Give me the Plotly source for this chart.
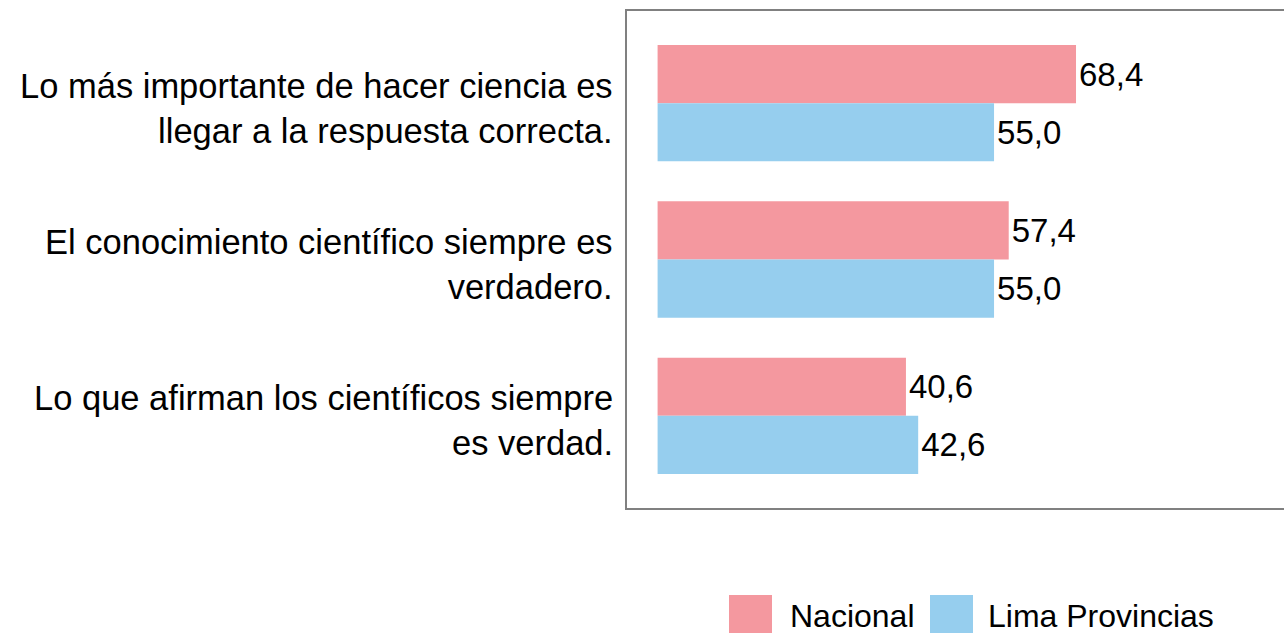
import plotly.graph_objects as go

# Survey statements (y categories, top to bottom)
categories = [
    "Lo más importante de hacer ciencia es<br>llegar a la respuesta correcta.",
    "El conocimiento científico siempre es<br>verdadero.",
    "Lo que afirman los científicos siempre<br>es verdad.",
]
series_names = ["Nacional", "Lima Provincias"]
nacional = [68.4, 57.4, 40.6]
lima_provincias = [55.0, 55.0, 42.6]
colors = ["#F4989F", "#96CEEE"]

FONT = "Liberation Sans, Arial, sans-serif"
W, H = 1284, 633
ML, MT, MB = 627, 11, 125

fig = go.Figure()
for name, vals, col in zip(series_names, [nacional, lima_provincias], colors):
    fig.add_trace(go.Bar(
        y=categories, x=vals, name=name, orientation="h",
        marker=dict(color=col, line=dict(width=0)),
        texttemplate="%{x:.1f}", textposition="outside",
        textfont=dict(size=33, color="#000000", family=FONT),
        cliponaxis=False, showlegend=False,
    ))

plot_w = W - ML
plot_h = H - MT - MB
def px_x(p):
    return (p - ML) / plot_w
def px_y(p):
    return (H - MB - p) / plot_h

# Category labels, right-aligned against the left edge of the frame
for cat in categories:
    fig.add_annotation(xref="paper", yref="y", x=px_x(615), y=cat,
                       xanchor="right", yanchor="middle", align="right",
                       yshift=-5, showarrow=False, text=cat,
                       font=dict(size=34.5, color="#000000", family=FONT))

# Legend drawn as large swatches with labels below the plot
legend_items = [(729, 788), (930, 986)]
for (sx, tx), name, col in zip(legend_items, series_names, colors):
    fig.add_shape(type="rect", xref="paper", yref="paper",
                  x0=px_x(sx), x1=px_x(sx + 43), y0=px_y(595), y1=px_y(638),
                  fillcolor=col, line=dict(width=0))
    fig.add_annotation(xref="paper", yref="paper", x=px_x(tx), y=px_y(616),
                       xanchor="left", yanchor="middle", showarrow=False,
                       text=name, font=dict(size=32, color="#000000", family=FONT))

fig.update_layout(
    width=W, height=H,
    margin=dict(l=ML, r=0, t=MT, b=MB, pad=0),
    paper_bgcolor="white", plot_bgcolor="white",
    barmode="group", bargap=0.256, bargroupgap=0,
    separators=",.",
    font=dict(family=FONT, size=33, color="#000000"),
    showlegend=False,
)
fig.update_xaxes(range=[-5, 102.4], showgrid=False, zeroline=False,
                 showticklabels=False, ticks="",
                 showline=True, mirror=True, linecolor="#808080", linewidth=2)
fig.update_yaxes(range=[2.59, -0.59], showgrid=False, zeroline=False,
                 ticks="", showticklabels=False,
                 showline=True, mirror=False, linecolor="#808080", linewidth=2)

fig.write_html("out.html")
